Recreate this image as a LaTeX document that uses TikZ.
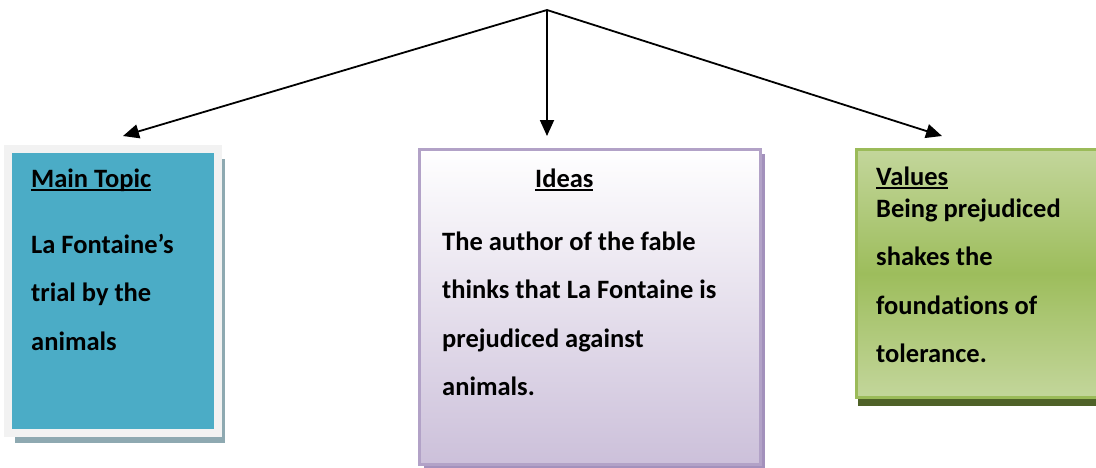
\documentclass[tikz,border=0pt]{standalone}
\usepackage{fontspec}
\setmainfont[Ligatures=NoCommon]{Carlito}
\usetikzlibrary{arrows.meta,shadows}
\definecolor{topicblue}{HTML}{4BACC6}
\definecolor{topicframe}{HTML}{F2F2F2}
\definecolor{topicshadow}{HTML}{8EA9B1}
\definecolor{ideasframe}{HTML}{B2A2C7}
\definecolor{ideaslow}{HTML}{CCC0DA}
\definecolor{ideasshadow}{HTML}{A391BC}
\definecolor{valuesframe}{HTML}{9BBB59}
\definecolor{valueslight}{HTML}{C3D69B}
\definecolor{valuesmid}{HTML}{9DBD5C}
\definecolor{valuesshadow}{HTML}{4F6228}
\newcommand\headline[1]{\setbox0\hbox{#1}\rlap{\rule[-4pt]{\wd0}{2.5pt}}\box0}

\begin{document}
\begin{tikzpicture}[x=1pt,y=-1pt,
  card/.style={rectangle,inner sep=0pt},
  words/.style={anchor=base west,inner sep=0pt,align=left,
    font=\fontsize{26.5}{48.5}\selectfont\bfseries},
  link/.style={line width=1.8pt,-{Triangle[length=16pt,width=14pt]}}]
\useasboundingbox (0,0) rectangle (1096,467);
% the three cards
\node (topic) [card,draw=topicframe,line width=8pt,fill=topicblue,
  minimum width=210pt,minimum height=284pt,
  drop shadow={shadow xshift=7pt,shadow yshift=-10pt,fill=topicshadow,opacity=1}]
  at (113,291) {};
\node (ideas) [card,draw=ideasframe,line width=3pt,top color=white,bottom color=ideaslow,
  minimum width=341pt,minimum height=315pt,
  drop shadow={shadow xshift=4.5pt,shadow yshift=-4.5pt,fill=ideasshadow,opacity=1}]
  at (590,307) {};
\node (values) [card,draw=valuesframe,line width=3pt,
  top color=valueslight,bottom color=valueslight,middle color=valuesmid,
  minimum width=248.5pt,minimum height=248pt,
  drop shadow={shadow xshift=1.5pt,shadow yshift=-8.5pt,fill=valuesshadow,opacity=1}]
  at (980.75,273.5) {};
% texts (base = last line)
\node (topichead) [words] at (31,187) {\headline{Main Topic}};
\node (topictext) [words] at (31,350) {La Fontaine’s\\trial by the\\animals};
\node (ideashead) [words] at (535,187) {\headline{Ideas}};
\node (ideastext) [words] at (442,395.5) {The author of the fable\\thinks that La Fontaine is\\prejudiced against\\animals.};
\node (valueshead) [words] at (876,185) {\headline{Values}};
\node (valuestext) [words] at (876,362.5) {Being prejudiced\\shakes the\\foundations of\\tolerance.};
% arrows
\coordinate (apex) at (547,10);
\coordinate (tipl) at (123,136);
\coordinate (tipm) at (547,136);
\coordinate (tipr) at (942,136);
\draw[link] (apex) -- (tipl);
\draw[link] (apex) -- (tipm);
\draw[link] (apex) -- (tipr);
\end{tikzpicture}
\end{document}
